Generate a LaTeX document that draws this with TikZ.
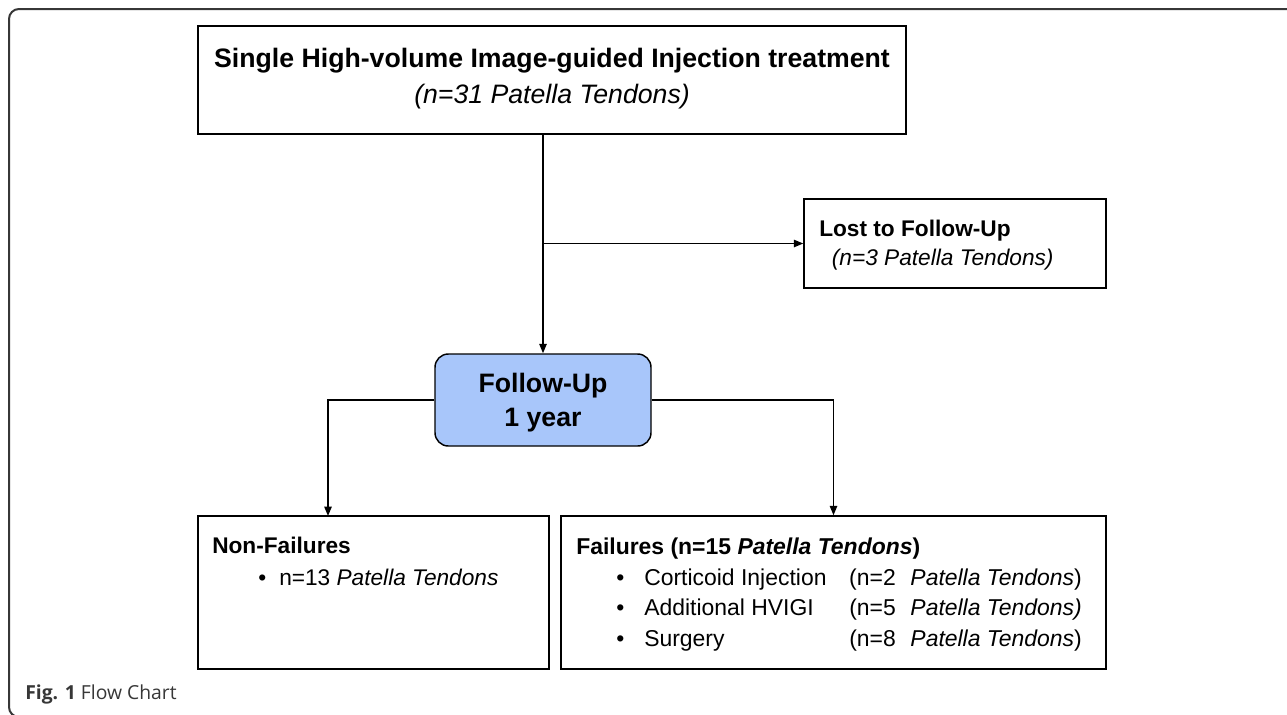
\documentclass[tikz,border=0pt]{standalone}
\usepackage{fontspec}
\setmainfont{Liberation Sans}
\newfontfamily\captionfont{Open Sans}
\usepackage{tikz}
\usetikzlibrary{fit, positioning, arrows.meta}
\definecolor{followblue}{RGB}{168, 198, 250}
\definecolor{framegray}{RGB}{55, 55, 55}
\newcommand{\tendons}{\textit{Patella Tendons}}
\newcommand{\bulletrow}[3]{%
\hspace*{#1}\makebox[#2][l]{\textbullet}#3%
}

\begin{document}
\begin{tikzpicture}[x=0.75pt, y=-0.75pt,
    box/.style={draw, line width=1.1pt, inner sep=0pt},
    followbox/.style={draw, line width=1.1pt, inner sep=0pt, fill=followblue, rounded corners=10pt},
    txt/.style={inner sep=0pt, align=left, anchor=west},
    conn/.style={line width=1.1pt, -{Triangle[length=7pt, width=5.5pt]}}]
    \useasboundingbox (0,0) rectangle (1287,714);
    \draw[framegray, line width=1.5pt, rounded corners=7.5pt] (1300,9) -- (9,9) -- (9,717) -- (1300,717);

    \node[box, fit={(198,26) (906,134)}] (single) {};
    \node[inner sep=0pt, align=center, font={\fontsize{20pt}{27pt}\selectfont}] (singletxt) at (552,78.5)
        {\textbf{Single High-volume Image-guided Injection treatment}\\
         \textit{(n=31 Patella Tendons)}};

    \node[box, fit={(804,199) (1106,288)}] (lost) {};
    \node[txt, font={\fontsize{17pt}{21.75pt}\selectfont}] (losttxt) at (819,245)
        {\textbf{Lost to Follow-Up}\\
         \hspace*{9.5pt}\textit{(n=3 Patella Tendons)}};

    \node[followbox, fit={(435,354) (651,446)}] (follow) {};
    \node[inner sep=0pt, align=center, font={\fontsize{20pt}{25.5pt}\selectfont\bfseries}] (followtxt) at (543,402.5)
        {Follow-Up\\1 year};

    \node[box, fit={(198,516) (549,669)}] (nonfail) {};
    \node[txt, font={\fontsize{17pt}{24pt}\selectfont}] (nonfailtxt) at (212,561)
        {\textbf{Non-Failures}\\
         \bulletrow{34.5pt}{15.75pt}{n=13 \tendons}};

    \node[box, fit={(561,516) (1106,669)}] (fail) {};
    \node[txt, font={\fontsize{17.2pt}{23pt}\selectfont}] (failtxt) at (576,594.5)
        {\textbf{Failures (n=15 \textit{Patella Tendons})}\\
         \bulletrow{30pt}{21pt}{\makebox[153.75pt][l]{Corticoid Injection}(n=2\hspace{11pt}\tendons)}\\
         \bulletrow{30pt}{21pt}{\makebox[153.75pt][l]{Additional HVIGI}(n=5\hspace{11pt}\textit{Patella Tendons)}}\\
         \bulletrow{30pt}{21pt}{\makebox[153.75pt][l]{Surgery}(n=8\hspace{11pt}\tendons)}};

    \coordinate (leftdrop) at (328,516);
    \draw[conn] (single.south -| follow.north) -- (follow.north);
    \draw[conn] (lost.west -| follow.north) -- (lost.west);
    \draw[conn] (follow.west) -| (leftdrop);
    \draw[conn] (follow.east) -| (fail.north);

    \node[inner sep=0pt, anchor=west, text=framegray, font={\captionfont\fontsize{14.5pt}{17pt}\selectfont}] (caption) at (25,694)
        {\textbf{Fig. 1} Flow Chart};
\end{tikzpicture}
\end{document}
